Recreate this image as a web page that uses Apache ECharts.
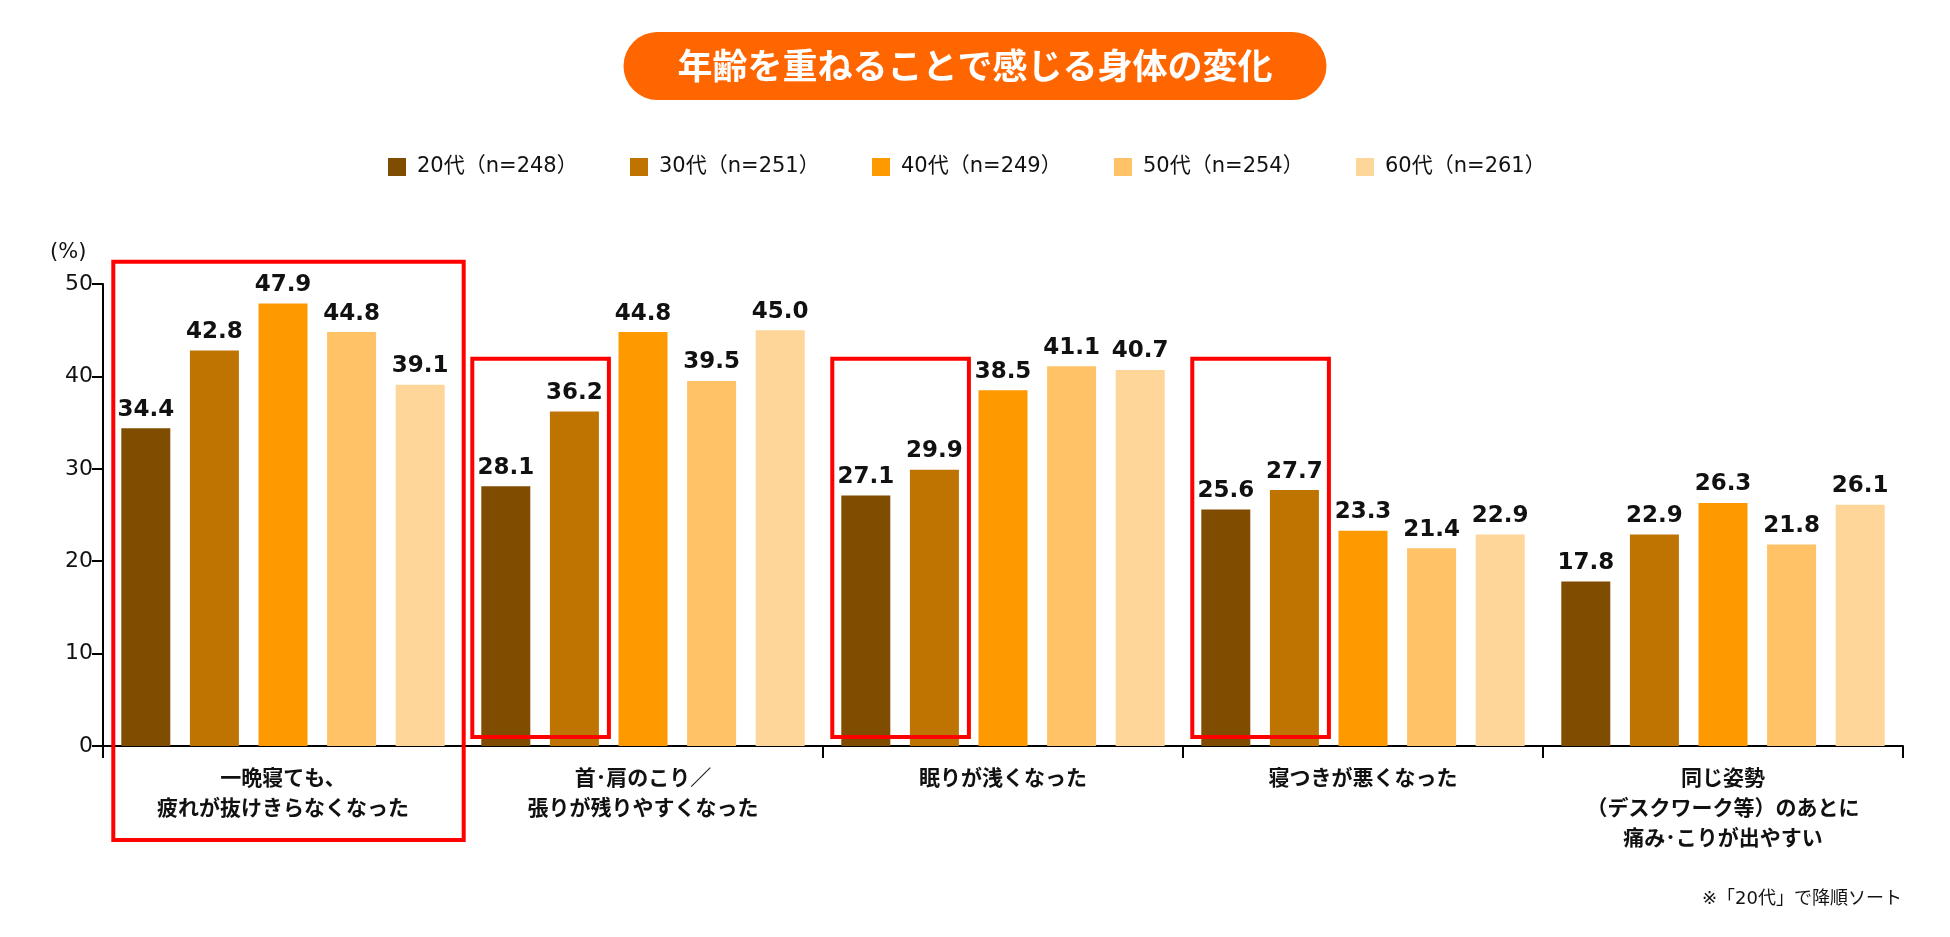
<!DOCTYPE html>
<html>
<head>
<meta charset="utf-8">
<title>年齢を重ねることで感じる身体の変化</title>
<script src="https://cdn.jsdelivr.net/npm/echarts@6/dist/echarts.min.js"></script>
<style>
  html, body { margin: 0; padding: 0; background: #fff; }
  #chart { width: 1950px; height: 937px; }
</style>
</head>
<body>
<div id="chart"></div>
<script>
// data
const categories = [
  '一晩寝ても、\n疲れが抜けきらなくなった',
  '首･肩のこり／\n張りが残りやすくなった',
  '眠りが浅くなった',
  '寝つきが悪くなった',
  '同じ姿勢\n（デスクワーク等）のあとに\n痛み･こりが出やすい'
];
const seriesNames = ['20代（n=248）', '30代（n=251）', '40代（n=249）', '50代（n=254）', '60代（n=261）'];
const values20 = [34.4, 28.1, 27.1, 25.6, 17.8];
const values30 = [42.8, 36.2, 29.9, 27.7, 22.9];
const values40 = [47.9, 44.8, 38.5, 23.3, 26.3];
const values50 = [44.8, 39.5, 41.1, 21.4, 21.8];
const values60 = [39.1, 45.0, 40.7, 22.9, 26.1];
const yTicks = [0, 10, 20, 30, 40, 50];

const colors = ['#7F4C00', '#BF7300', '#FF9900', '#FFC266', '#FFD699'];
const JP = '"Noto Sans CJK JP", "Noto Sans", sans-serif';
// Verdana-like latin digits, CJK falls back to Noto
const MIX = '"DejaVu Sans", "Noto Sans CJK JP", sans-serif';
const BAR_W = 49;
const BAR_GAP = 0.4;

const chart = echarts.init(document.getElementById('chart'));

const allValues = [values20, values30, values40, values50, values60];
const series = allValues.map((vals, i) => ({
  name: seriesNames[i],
  type: 'bar',
  data: vals,
  barWidth: BAR_W,
  barGap: (BAR_GAP * 100) + '%',
  itemStyle: { color: colors[i] },
  label: {
    show: true,
    position: 'top',
    distance: 7,
    formatter: p => p.value.toFixed(1),
    fontFamily: '"DejaVu Sans", Verdana, sans-serif',
    fontWeight: 'bold',
    fontSize: 23,
    color: '#111'
  }
}));

chart.setOption({
  animation: false,
  title: {
    text: '年齢を重ねることで感じる身体の変化',
    left: 'center',
    top: 32,
    backgroundColor: '#FF6600',
    borderRadius: 34,
    padding: [15, 54],
    textStyle: {
      color: '#fff',
      fontFamily: JP,
      fontWeight: 'bold',
      fontSize: 35,
      lineHeight: 38
    }
  },
  legend: {
    left: 383,
    top: 150,
    icon: 'rect',
    itemWidth: 18,
    itemHeight: 18,
    itemGap: 51,
    data: seriesNames,
    textStyle: {
      fontFamily: MIX,
      fontSize: 21,
      color: '#111',
      lineHeight: 24,
      width: 162,
      padding: [0, 0, 0, 6]
    }
  },
  grid: { left: 103, right: 47, top: 284, bottom: 191 },
  xAxis: {
    type: 'category',
    data: categories,
    axisLine: { lineStyle: { color: '#000', width: 2 } },
    axisTick: { show: true, interval: 0, length: 12, lineStyle: { color: '#000', width: 2 } },
    axisLabel: {
      interval: 0,
      margin: 16,
      fontFamily: JP,
      fontWeight: 'bold',
      fontSize: 21,
      lineHeight: 30,
      color: '#111'
    }
  },
  yAxis: {
    type: 'value',
    min: yTicks[0],
    max: yTicks[yTicks.length - 1],
    interval: yTicks[1] - yTicks[0],
    axisLine: { show: true, lineStyle: { color: '#000', width: 2 } },
    axisTick: { show: true, length: 11, lineStyle: { color: '#000', width: 2 } },
    splitLine: { show: false },
    axisLabel: { margin: 10, fontFamily: MIX, fontSize: 22, color: '#111' }
  },
  series: series
});

// red highlight boxes around the bars, positioned from the axes
const boxes = [
  { cat: 0, from: 0, to: 4, top: 52.4, bottom: 94, padL: 8, padR: 19 },
  { cat: 1, from: 0, to: 1, top: 41.9, bottom: -9, padL: 9, padR: 10 },
  { cat: 2, from: 0, to: 1, top: 41.9, bottom: -9, padL: 9, padR: 10 },
  { cat: 3, from: 0, to: 1, top: 41.9, bottom: -9, padL: 9, padR: 10 }
];

function barLeft(cat, j) {
  const center = chart.convertToPixel({ xAxisIndex: 0 }, cat);
  const n = allValues.length;
  const total = n * BAR_W + (n - 1) * BAR_W * BAR_GAP;
  return center - total / 2 + j * BAR_W * (1 + BAR_GAP);
}

const zeroY = chart.convertToPixel({ yAxisIndex: 0 }, 0);
const graphics = boxes.map(b => {
  const x1 = barLeft(b.cat, b.from) - b.padL;
  const x2 = barLeft(b.cat, b.to) + BAR_W + b.padR;
  const y1 = chart.convertToPixel({ yAxisIndex: 0 }, b.top);
  const y2 = zeroY + b.bottom;
  return {
    type: 'rect',
    z: 10,
    shape: { x: x1, y: y1, width: x2 - x1, height: y2 - y1 },
    style: { fill: 'none', stroke: '#FF0000', lineWidth: 4 }
  };
});

graphics.push({
  type: 'text',
  left: 50,
  top: 242,
  style: { text: '(%)', font: '21px ' + MIX, fill: '#111' }
});
graphics.push({
  type: 'text',
  right: 48,
  top: 890,
  style: { text: '※「20代」で降順ソート', font: '18px ' + MIX, fill: '#111' }
});

chart.setOption({ graphic: graphics });

window.addEventListener('resize', () => chart.resize());
</script>
</body>
</html>
